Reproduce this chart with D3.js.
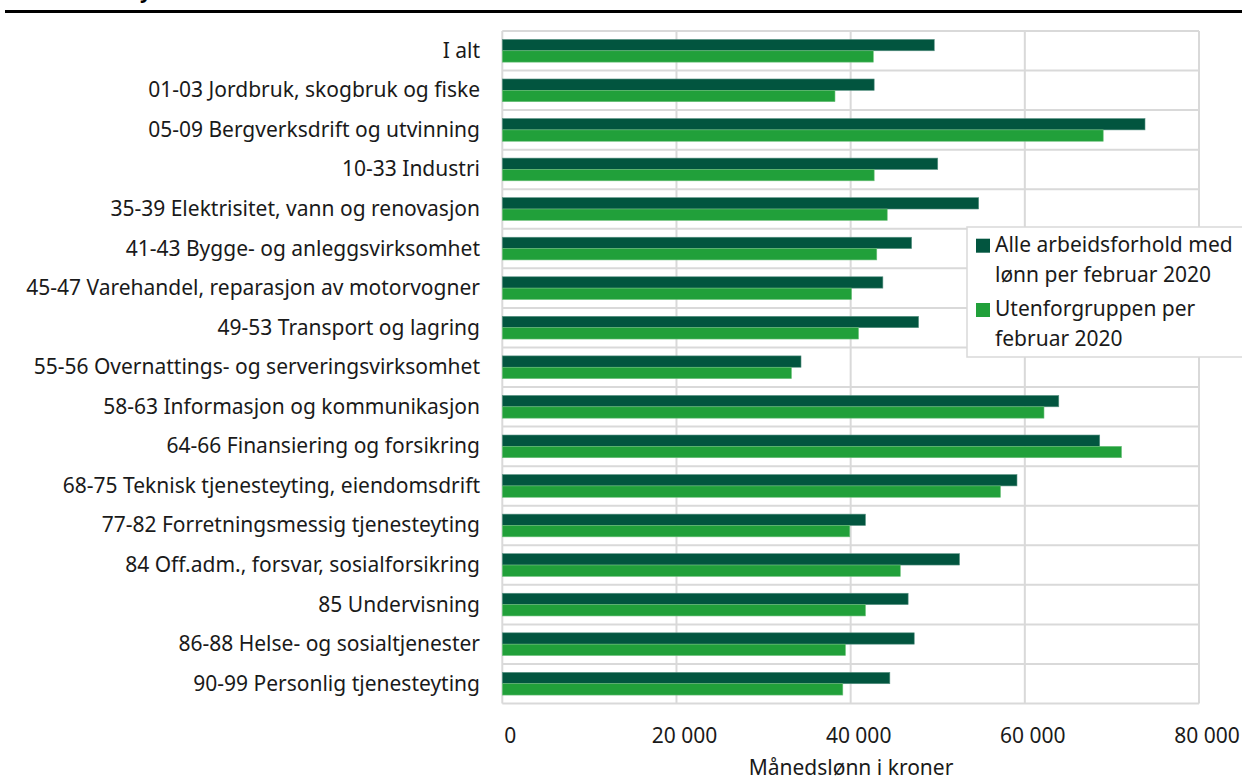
<!DOCTYPE html>
<html>
<head>
<meta charset="utf-8">
<script src="https://cdn.jsdelivr.net/npm/d3@7"></script>
<style>
  html, body { margin: 0; padding: 0; background: #fff; }
  svg { display: block; font-family: "Noto Sans", "Open Sans", sans-serif; }
</style>
</head>
<body>
<svg id="chart" width="1242" height="779"></svg>
<script>
const categories = [
  "I alt",
  "01-03 Jordbruk, skogbruk og fiske",
  "05-09 Bergverksdrift og utvinning",
  "10-33 Industri",
  "35-39 Elektrisitet, vann og renovasjon",
  "41-43 Bygge- og anleggsvirksomhet",
  "45-47 Varehandel, reparasjon av motorvogner",
  "49-53 Transport og lagring",
  "55-56 Overnattings- og serveringsvirksomhet",
  "58-63 Informasjon og kommunikasjon",
  "64-66 Finansiering og forsikring",
  "68-75 Teknisk tjenesteyting, eiendomsdrift",
  "77-82 Forretningsmessig tjenesteyting",
  "84 Off.adm., forsvar, sosialforsikring",
  "85 Undervisning",
  "86-88 Helse- og sosialtjenester",
  "90-99 Personlig tjenesteyting"
];
const seriesNames = [
  "Alle arbeidsforhold med lønn per februar 2020",
  "Utenforgruppen per februar 2020"
];
const alleValues = [49600, 42700, 73800, 50000, 54700, 47000, 43700, 47800, 34300, 63900, 68600, 59100, 41700, 52500, 46600, 47300, 44500];
const utenforValues = [42600, 38200, 69000, 42700, 44200, 43000, 40100, 40900, 33200, 62200, 71100, 57200, 39900, 45700, 41700, 39400, 39100];
const xTicks = [0, 20000, 40000, 60000, 80000];
const xTickLabels = ["0", "20 000", "40 000", "60 000", "80 000"];
const axisTitle = "Månedslønn i kroner";
const legendLines = [["Alle arbeidsforhold med", "lønn per februar 2020"], ["Utenforgruppen per", "februar 2020"]];
const colors = ["#02553f", "#21a03a"];
const strokeColors = ["#5a9384", "#6cc07a"];

const svg = d3.select("#chart");
const plot = { left: 502.3, right: 1199, top: 31, bottom: 703.5 };
const FS = 21;

const x = d3.scaleLinear().domain([0, 80000]).range([plot.left, plot.right]);
const y = d3.scaleBand().domain(categories).range([plot.top, plot.bottom]).padding(0);
const groupH = 22.7;
const y1 = d3.scaleBand().domain([0, 1]).range([0, groupH]).padding(0);

// Top thick rule and cropped title descender
svg.append("line").attr("x1", 5).attr("x2", 1242).attr("y1", 11.5).attr("y2", 11.5)
  .attr("stroke", "#000").attr("stroke-width", 3);
svg.append("text").attr("x", 140).attr("y", -2.5).attr("font-size", 20).attr("font-weight", "bold")
  .attr("fill", "#000").text("y");

// Gridlines
const grid = svg.append("g");
grid.selectAll("line.v").data(xTicks).join("line")
  .attr("x1", d => x(d)).attr("x2", d => x(d))
  .attr("y1", plot.top).attr("y2", plot.bottom)
  .attr("stroke", "#d9d9d9").attr("stroke-width", 2);
const hBounds = categories.map(c => y(c)).concat([plot.bottom]);
grid.selectAll("line.h").data(hBounds).join("line")
  .attr("x1", plot.left).attr("x2", plot.right)
  .attr("y1", d => d).attr("y2", d => d)
  .attr("stroke", "#d9d9d9").attr("stroke-width", 2);

// Bars
const data = categories.map((c, i) => ({ cat: c, vals: [alleValues[i], utenforValues[i]] }));
const groups = svg.append("g").selectAll("g").data(data).join("g")
  .attr("transform", d => `translate(0,${y(d.cat) + (y.bandwidth() - groupH) / 2})`);
groups.selectAll("rect").data(d => d.vals.map((v, k) => ({ v, k }))).join("rect")
  .attr("x", x(0))
  .attr("y", d => y1(d.k))
  .attr("width", d => x(d.v) - x(0))
  .attr("height", y1.bandwidth())
  .attr("fill", d => colors[d.k])
  .attr("stroke", d => strokeColors[d.k])
  .attr("stroke-width", 0.6);

// Category labels
svg.append("g").selectAll("text").data(categories).join("text")
  .attr("x", 480)
  .attr("y", d => y(d) + y.bandwidth() / 2)
  .attr("dy", "0.33em")
  .attr("text-anchor", "end")
  .attr("font-size", FS)
  .attr("fill", "#1a1a1a")
  .text(d => d);

// X tick labels
svg.append("g").selectAll("text").data(xTicks).join("text")
  .attr("x", (d) => x(d) + 8)
  .attr("y", 743)
  .attr("text-anchor", "middle")
  .attr("font-size", FS)
  .attr("fill", "#1a1a1a")
  .text((d, i) => xTickLabels[i]);

// Axis title
svg.append("text").attr("x", 851).attr("y", 775)
  .attr("text-anchor", "middle").attr("font-size", FS).attr("fill", "#1a1a1a")
  .text(axisTitle);

// Legend
const lg = svg.append("g");
lg.append("rect").attr("x", 967).attr("y", 227).attr("width", 290).attr("height", 130)
  .attr("fill", "#fff").attr("stroke", "#d9d9d9").attr("stroke-width", 1.5);
const legendTop = [238.7, 303];
seriesNames.forEach((name, k) => {
  lg.append("rect").attr("x", 976).attr("y", legendTop[k]).attr("width", 14).attr("height", 14)
    .attr("fill", colors[k]);
  legendLines[k].forEach((line, j) => {
    lg.append("text").attr("x", 995).attr("y", legendTop[k] + 12.8 + j * 30.5)
      .attr("font-size", FS).attr("fill", "#1a1a1a").text(line);
  });
});
</script>
</body>
</html>
